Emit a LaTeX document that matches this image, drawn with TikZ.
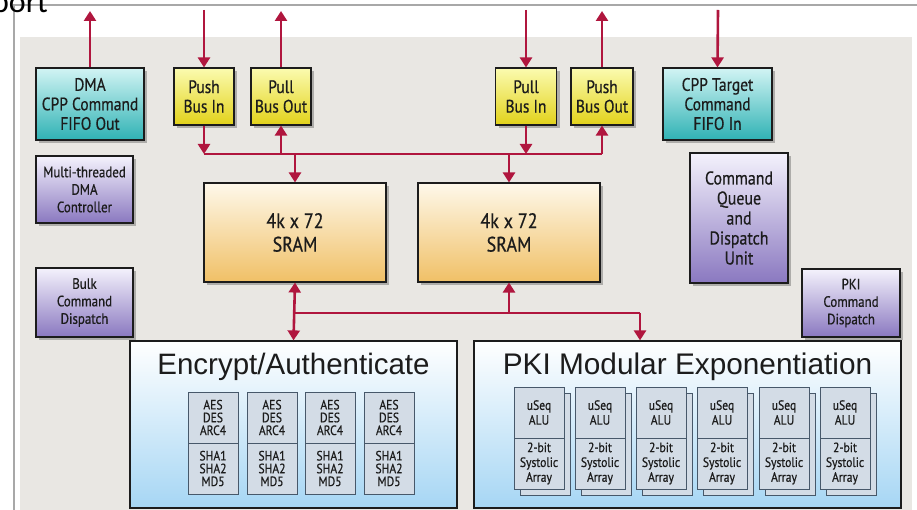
\documentclass[tikz,border=0pt]{standalone}
\usepackage{fontspec}
\setmainfont{Liberation Sans}
\newfontfamily\cond[FakeStretch=0.86,FakeBold=0.6]{PT Sans}
\newfontfamily\calib{Carlito}
\usetikzlibrary{arrows.meta,shadows}
\definecolor{arrowred}{HTML}{B0163E}
\definecolor{panelbg}{HTML}{E9E7E3}
\definecolor{framegray}{HTML}{A8A8A8}
\definecolor{inkdark}{HTML}{1C1C1C}
\definecolor{tealtop}{HTML}{D2F4F4}
\definecolor{tealbot}{HTML}{2FB2B4}
\definecolor{yeltop}{HTML}{FBFBB0}
\definecolor{yelbot}{HTML}{E2D21A}
\definecolor{purtop}{HTML}{F4F2FC}
\definecolor{purbot}{HTML}{8A78C0}
\definecolor{sramtop}{HTML}{FEF8EA}
\definecolor{srambot}{HTML}{F0C066}
\definecolor{bluetop}{HTML}{FFFFFF}
\definecolor{bluebot}{HTML}{A6D6F4}
\definecolor{cellfill}{HTML}{D3DCE6}
\definecolor{cellline}{HTML}{47586A}
\tikzset{
  box/.style={draw=inkdark, line width=1.1pt, inner sep=0pt, align=center,
    text=inkdark, drop shadow={shadow xshift=3pt, shadow yshift=-3pt, opacity=0.25, fill=black}},
  tealbox/.style={box, top color=tealtop, bottom color=tealbot},
  yelbox/.style={box, top color=yeltop, bottom color=yelbot},
  purbox/.style={box, top color=purtop, bottom color=purbot},
  srambox/.style={box, top color=sramtop, bottom color=srambot},
  bigbox/.style={draw=inkdark, line width=1.2pt, inner sep=0pt, top color=bluetop, bottom color=bluebot},
  cell/.style={draw=cellline, line width=0.8pt, fill=cellfill, inner sep=0pt, align=center,
    minimum width=50pt, minimum height=51pt, text=inkdark},
  backcell/.style={draw=cellline, line width=0.8pt, fill=cellfill, inner sep=0pt,
    minimum width=50pt, minimum height=102pt},
  bus/.style={draw=arrowred, line width=2.6pt},
  arr/.style={bus, -{Triangle[width=12pt,length=10pt]}},
  darr/.style={bus, {Triangle[width=12pt,length=10pt]}-{Triangle[width=12pt,length=10pt]}},
  lbl/.style={font=\cond\fontsize{18}{19.5}\selectfont},
  slbl/.style={font=\cond\fontsize{15}{17.5}\selectfont},
  cl/.style={font=\cond\fontsize{13.5}{12.8}\selectfont},
  ul/.style={font=\cond\fontsize{13.5}{14.8}\selectfont},
}
\begin{document}
\begin{tikzpicture}[x=1pt,y=-1pt]
\useasboundingbox (0,0) rectangle (917,510);
\fill[white] (0,0) rectangle (917,510);
% frame and panel
\fill[panelbg] (20,37) rectangle (912,510);
\draw[framegray, line width=1.2pt] (917,5) -- (14,5) -- (14,510);
\begin{scope}
\clip (0,0) rectangle (917,510);
\node[anchor=base west, inner sep=0pt, font=\calib\fontsize{32}{32}\selectfont, text=black] (title) at (-8,13) {port};
\end{scope}

% top boxes
\node[tealbox, minimum width=108pt, minimum height=72pt, lbl] (dma) at (90,104) {DMA\\CPP Command\\FIFO Out};
\node[yelbox, minimum width=60pt, minimum height=57pt, lbl] (pushin) at (204,96.5) {Push\\Bus In};
\node[yelbox, minimum width=60pt, minimum height=57pt, lbl] (pullout) at (281,96.5) {Pull\\Bus Out};
\node[yelbox, minimum width=61pt, minimum height=57pt, lbl] (pullin) at (526,96.5) {Pull\\Bus In};
\node[yelbox, minimum width=62pt, minimum height=57pt, lbl] (pushout) at (602,96.5) {Push\\Bus Out};
\node[tealbox, minimum width=109pt, minimum height=72pt, lbl] (cpp) at (717.5,104) {CPP Target\\Command\\FIFO In};

% side boxes
\node[purbox, minimum width=97pt, minimum height=67pt, slbl] (mtdma) at (84.5,189.5) {Multi-threaded\\DMA\\Controller};
\node[purbox, minimum width=97pt, minimum height=69pt, slbl] (bulk) at (84.5,302.5) {Bulk\\Command\\Dispatch};
\node[purbox, minimum width=98pt, minimum height=130pt, font=\cond\fontsize{18.5}{20}\selectfont] (cmdq) at (739,218) {Command\\Queue\\and\\Dispatch\\Unit};
\node[purbox, minimum width=98pt, minimum height=68pt, slbl] (pkid) at (851,303) {PKI\\Command\\Dispatch};

% SRAMs
\node[srambox, minimum width=182pt, minimum height=99pt, font=\cond\fontsize{21}{23.5}\selectfont] (sram1) at (295,232.5) {4k x 72\\SRAM};
\node[srambox, minimum width=182pt, minimum height=99pt, font=\cond\fontsize{21}{23.5}\selectfont] (sram2) at (509,232.5) {4k x 72\\SRAM};

% big boxes
\node[bigbox, minimum width=327pt, minimum height=167pt] (enc) at (293.5,424.5) {};
\node[bigbox, minimum width=427pt, minimum height=167pt] (pki) at (687.5,424.5) {};
\node[font=\fontsize{29.5}{29.5}\selectfont, text=inkdark, inner sep=0pt] (enct) at (293.5,367) {Encrypt/Authenticate};
\node[font=\fontsize{29.8}{29.8}\selectfont, text=inkdark, inner sep=0pt] (pkit) at (687.5,367) {PKI Modular Exponentiation};

% encrypt cells
\foreach \i/\cx in {1/213,2/272,3/330,4/389}{
  \node[cell, cl] (ea\i) at (\cx,417.5) {AES\\DES\\ARC4};
  \node[cell, cl] (eb\i) at (\cx,468.5) {SHA1\\SHA2\\MD5};
}
% PKI cells
\foreach \i/\cx in {1/539,2/600,3/661,4/722,5/784,6/845}{
  \node[backcell] (pk\i) at (\cx+6,444) {};
  \node[cell, ul] (pa\i) at (\cx,412.5) {uSeq\\ALU};
  \node[cell, ul] (pb\i) at (\cx,463.5) {2-bit\\Systolic\\Array};
}

% external connectors
\coordinate (dmaext) at (90,11);
\coordinate (pushinext) at (204,10);
\coordinate (pulloutext) at (281,11);
\coordinate (pullinext) at (526,10);
\coordinate (pushoutext) at (602,11);
\coordinate (cppext) at (718,10);
\draw[arr] (dma.north) -- (dmaext);
\draw[arr] (pushinext) -- (pushin.north);
\draw[arr] (pullout.north) -- (pulloutext);
\draw[arr] (pullinext) -- (pullin.north);
\draw[arr] (pushout.north) -- (pushoutext);
\draw[arr] (cppext) -- (cpp.north);

% upper bus
\coordinate (b1) at (204,154);
\coordinate (b2) at (281,154);
\coordinate (b3) at (295,154);
\coordinate (b4) at (509,154);
\coordinate (b5) at (526,154);
\coordinate (b6) at (602,154);
\draw[bus] (b1) -- (b6);
\draw[arr] (pushin.south) -- (b1);
\draw[arr] (b2) -- (pullout.south);
\draw[arr] (b3) -- (sram1.north);
\draw[arr] (b4) -- (sram2.north);
\draw[arr] (pullin.south) -- (b5);
\draw[arr] (b6) -- (pushout.south);

% lower bus
\coordinate (l1) at (295,313);
\coordinate (l2) at (509,313);
\coordinate (l3) at (640,313);
\draw[darr] (sram1.south) -- (enc.north);
\draw[bus] (l1) -- (l3);
\draw[arr] (l2) -- (sram2.south);
\draw[arr] (l3) -- (pki.north -| l3);
\end{tikzpicture}
\end{document}
